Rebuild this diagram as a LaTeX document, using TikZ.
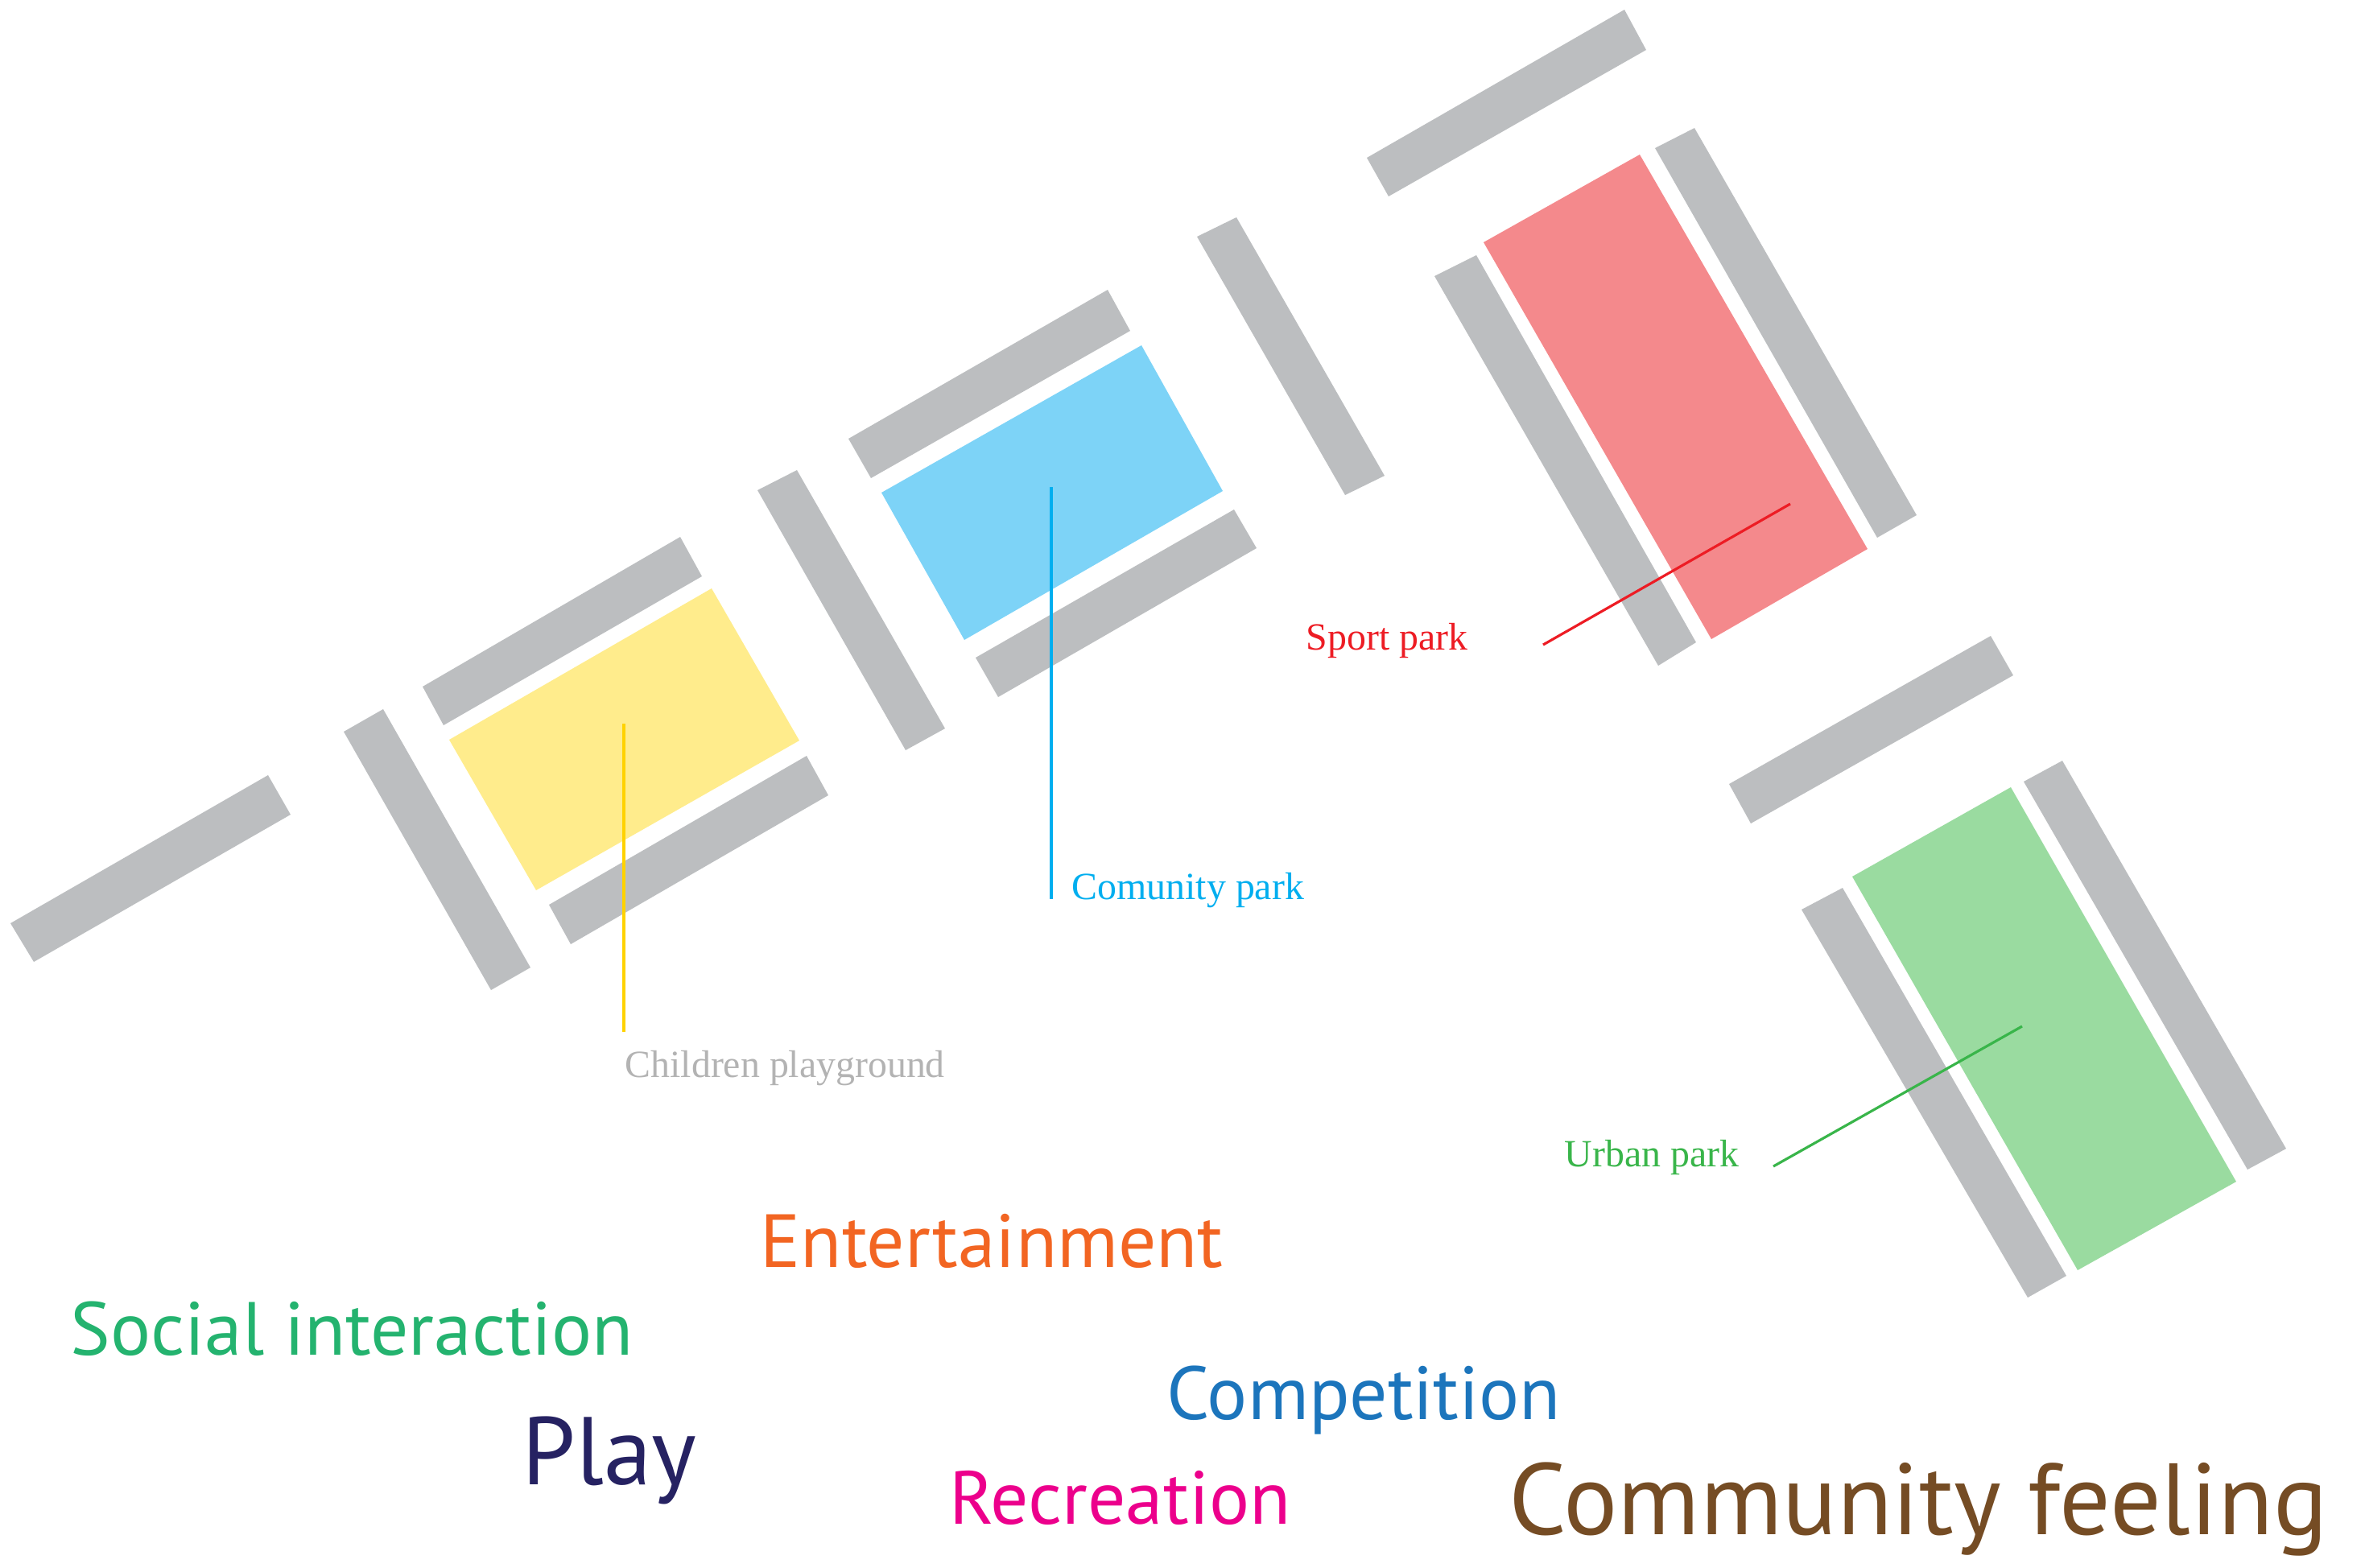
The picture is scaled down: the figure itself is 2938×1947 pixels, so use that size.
\documentclass[tikz,border=0pt]{standalone}
\usepackage{fontspec}
\setmainfont{Liberation Serif}
\newfontfamily\wordfont{PT Sans}
\definecolor{bargray}{HTML}{BCBEC0}
\definecolor{playyellow}{HTML}{FFEC8C}
\definecolor{comblue}{HTML}{7DD3F7}
\definecolor{sportred}{HTML}{F4898C}
\definecolor{urbangreen}{HTML}{9ADBA0}
\definecolor{lineyellow}{HTML}{FFD200}
\definecolor{linecyan}{HTML}{00AEEF}
\definecolor{linered}{HTML}{ED1C24}
\definecolor{linegreen}{HTML}{39B54A}
\definecolor{labelgray}{HTML}{B3B3B3}
\definecolor{entorange}{HTML}{F26522}
\definecolor{socgreen}{HTML}{24B36F}
\definecolor{playnavy}{HTML}{262262}
\definecolor{compblue}{HTML}{1C75BC}
\definecolor{recpink}{HTML}{EC008C}
\definecolor{combrown}{HTML}{754C24}
\begin{document}
\begin{tikzpicture}[x=0.01cm, y=-0.01cm]
            \useasboundingbox (0,0) rectangle (2938,1947);
            \tikzstyle{bar}=[fill=bargray]
            \tikzstyle{leader}=[line width=0.9pt]
            \tikzstyle{every node}=[inner sep=0pt, anchor=base west]
            \tikzstyle{place}=[font=\fontsize{13.6pt}{16pt}\selectfont]
            \tikzstyle{word}=[font=\wordfont\fontsize{26.6pt}{30pt}\selectfont]
            \tikzstyle{bigword}=[font=\wordfont\fontsize{35.8pt}{40pt}\selectfont]

            % gray strips
            \fill[bar] (13,1147) -- (42,1195) -- (361,1012) -- (333,963) -- cycle;
            \fill[bar] (427,909) -- (476,881) -- (659,1202) -- (610,1230) -- cycle;
            \fill[bar] (525,853) -- (845,667) -- (872,716) -- (551,901) -- cycle;
            \fill[bar] (682,1124) -- (1002,939) -- (1029,988) -- (709,1173) -- cycle;
            \fill[bar] (941,609) -- (990,584) -- (1174,905) -- (1125,932) -- cycle;
            \fill[bar] (1054,545) -- (1376,360) -- (1404,411) -- (1082,594) -- cycle;
            \fill[bar] (1212,817) -- (1533,633) -- (1561,681) -- (1240,866) -- cycle;
            \fill[bar] (1487,294) -- (1536,270) -- (1720,591) -- (1671,615) -- cycle;
            \fill[bar] (1698,196) -- (2018,12) -- (2045,62) -- (1725,244) -- cycle;
            \fill[bar] (1782,343) -- (1834,317) -- (2107,798) -- (2060,827) -- cycle;
            \fill[bar] (2056,184) -- (2105,159) -- (2381,640) -- (2332,668) -- cycle;
            \fill[bar] (2148,974) -- (2473,790) -- (2501,839) -- (2175,1023) -- cycle;
            \fill[bar] (2238,1130) -- (2289,1103) -- (2567,1585) -- (2519,1612) -- cycle;
            \fill[bar] (2514,971) -- (2562,945) -- (2840,1427) -- (2792,1453) -- cycle;

            % parks
            \fill[playyellow] (558,919) -- (884,731) -- (993,920) -- (666,1106) -- cycle;
            \fill[comblue] (1095,612) -- (1418,429) -- (1519,610) -- (1198,795) -- cycle;
            \fill[sportred] (1843,301) -- (2037,192) -- (2320,682) -- (2126,794) -- cycle;
            \fill[urbangreen] (2301,1089) -- (2498,978) -- (2778,1468) -- (2581,1578) -- cycle;

            % leaders
            \coordinate (kidsin) at (775,899);
            \coordinate (kidsout) at (775,1282);
            \coordinate (comin) at (1306,605);
            \coordinate (comout) at (1306,1117);
            \coordinate (sportin) at (2224,626);
            \coordinate (sportout) at (1917,801);
            \coordinate (urbanin) at (2512,1275);
            \coordinate (urbanout) at (2203,1449);

            \draw[leader, lineyellow] (kidsin) -- (kidsout);
            \draw[leader, linecyan] (comin) -- (comout);
            \draw[leader, linered] (sportin) -- (sportout);
            \draw[leader, linegreen] (urbanin) -- (urbanout);

            \node[place, text=labelgray] (kids) at (776,1338) {Children playground};
            \node[place, text=linecyan] (com) at (1331,1117) {Comunity park};
            \node[place, text=linered] (sport) at (1622,807) {Sport park};
            \node[place, text=linegreen] (urban) at (1943,1449) {Urban park};

            % words
            \node[word, text=entorange] (ent) at (944,1574) {Entertainment};
            \node[word, text=socgreen] (soc) at (87,1683) {Social interaction};
            \node[bigword, text=playnavy, font=\wordfont\fontsize{34pt}{40pt}\selectfont] (play) at (648,1844) {Play};
            \node[word, text=compblue] (comp) at (1449,1763) {Competition};
            \node[word, text=recpink] (rec) at (1179,1893) {Recreation};
            \node[bigword, text=combrown] (feel) at (1874,1906) {Community feeling};
        \end{tikzpicture}
\end{document}
